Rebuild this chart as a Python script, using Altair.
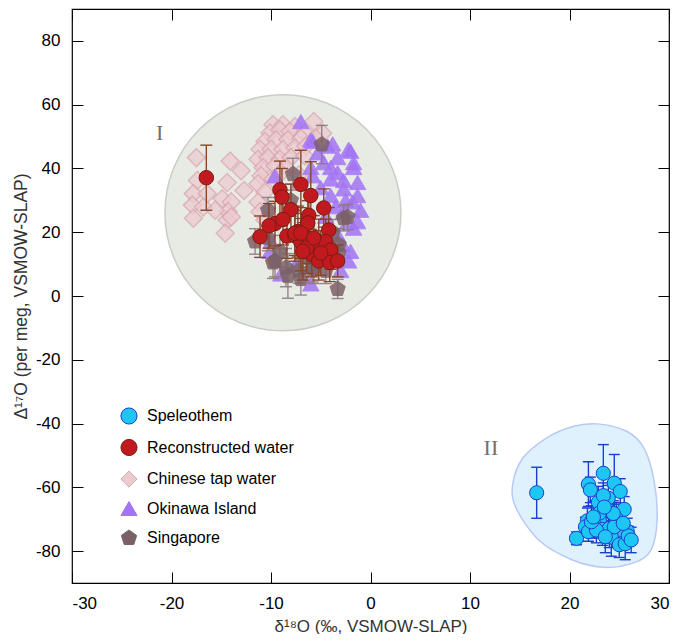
import altair as alt
import pandas as pd

series_names = ["Speleothem", "Reconstructed water", "Chinese tap water", "Okinawa Island", "Singapore"]
fill_colors = ["#1ec6f4", "#c01a1e", "#eccbd0", "#a374f5", "#7b6167"]
stroke_colors = ["#1a3fcf", "#7a1c12", "#d9a6ae", "#a374f5", "#7b6167"]
pent = "M0,-1L0.951,-0.309L0.588,0.809L-0.588,0.809L-0.951,-0.309Z"
shapes = ["circle", "circle", "diamond", "triangle-up", pent]

# Speleothem
sp_x = [16.7, 23.4, 24.5, 21.9, 22.1, 25.1, 22.9, 23.9, 23.4, 25.5, 23.9, 24.7, 21.8, 23.0, 21.6, 22.5, 23.3, 24.0,
        25.8, 24.9, 20.7, 21.9, 24.2, 25.0, 25.6, 25.9, 22.7, 22.2, 24.5, 23.6, 25.4, 24.4, 23.0, 23.5, 22.4, 26.2]
sp_y = [-61.7, -55.6, -58.7, -59.0, -60.8, -61.3, -64.7, -63.4, -62.6, -66.9, -67.2, -69.8, -70.5, -70.3, -72.4,
        -71.9, -73.2, -72.9, -73.7, -73.4, -76.0, -73.9, -75.6, -78.0, -77.7, -75.2, -73.4, -70.8, -72.4, -75.5,
        -71.3, -68.2, -68.1, -66.2, -69.3, -76.5]
sp_err = [8, 9, 9, 7, 4, 4, 5, 4, 4, 4, 4, 5, 4, 5, 3, 4, 5, 6, 4, 5, 2, 3, 6, 4, 5, 3, 4, 5, 4, 5, 3, 4, 4, 3, 5, 4]

# Reconstructed water
rw_x = [-16.5, -9.1, -8.9, -7.0, -6.0, -4.7, -8.0, -6.2, -6.3, -9.6, -10.2, -11.1, -8.4, -7.6, -7.0, -6.2, -4.2,
        -5.2, -4.5, -4.0, -5.9, -5.2, -4.1, -3.3, -6.4, -7.3, -7.6, -7.0, -5.7, -6.8, -5.0, -8.8]
rw_y = [37.1, 33.3, 31.0, 35.0, 31.5, 27.6, 27.1, 25.3, 22.9, 22.7, 22.0, 18.6, 18.8, 18.9, 16.9, 18.2, 20.7,
        17.1, 17.1, 14.4, 13.0, 11.0, 10.5, 11.0, 15.1, 20.2, 19.7, 19.7, 18.2, 14.0, 13.5, 24.0]
rw_err = [10.2, 9, 9, 10.7, 10.6, 6, 8, 8, 7, 7, 7, 6.5, 7, 8, 9, 8, 7, 7, 7, 6, 7, 6, 6, 5, 8, 8, 7, 8, 7, 9, 7, 8]

# Chinese tap water
tw_x = [-17.5, -14.1, -13.0, -17.4, -14.4, -12.7, -17.8, -16.4, -14.9, -17.9, -16.8, -14.0, -14.3, -17.8, -14.4,
        -14.6, -14.0, -15.6,
        -9.8, -8.8, -7.6, -5.7, -10.1, -9.1, -8.1, -6.6, -10.6, -9.5, -8.3, -7.0, -11.1, -10.0, -8.8, -7.6, -6.5,
        -11.3, -10.3, -9.1, -8.0, -6.6, -10.8, -9.6, -8.5, -11.0, -9.8, -11.3, -10.6, -11.3, -11.1, -10.6,
        -4.8, -5.5, -7.2, -9.0]
tw_y = [43.4, 42.3, 39.3, 36.2, 35.6, 33.1, 32.1, 32.1, 30.5, 28.5, 27.9, 29.5, 26.4, 24.4, 23.8, 19.7, 24.8, 26.9,
        53.7, 53.7, 53.1, 54.7, 51.1, 52.1, 51.6, 51.1, 48.5, 49.0, 49.0, 49.5, 46.0, 46.0, 46.0, 46.5, 47.0,
        42.9, 43.4, 42.9, 43.4, 43.9, 40.3, 40.8, 40.3, 37.7, 36.7, 35.2, 32.6, 29.5, 26.4, 23.8,
        51.0, 49.5, 38.0, 38.5]

# Okinawa Island
ok_x = [-7.0, -6.0, -4.3, -2.2, -3.3, -1.7, -1.3, -1.0, -1.7, -1.8, -2.2, -2.8, -3.3, -4.0, -2.7, -4.7, -5.3, -9.6,
        -6.0, -2.3, -1.3, -3.3, -2.7, -10.0, -10.1, -6.0, -9.0, -2.0, -1.3, -4.0, -4.2, -5.8, -3.8, -2.0, -1.7,
        -5.8, -4.0, -2.7, -3.5, -5.0, -3.0, -7.5, -4.5, -2.5]
ok_y = [54.7, 49.0, 47.0, 46.0, 43.4, 40.3, 35.6, 26.9, 21.3, 29.5, 11.0, 16.1, 38.7, 36.7, 33.6, 41.8, 44.9, 37.7,
        40.3, 23.3, 23.3, 19.2, 26.4, 17.1, 14.0, 3.8, 6.9, 14.0, 31.5, 31.5, 19.2, 48.5, 47.7, 45.4, 41.8,
        37.7, 40.3, 36.2, 28.0, 34.0, 8.0, 10.0, 25.0, 30.0]

# Singapore
sg_x = [-4.9, -7.8, -11.6, -9.6, -8.5, -7.0, -3.3, -2.3, -3.2, -5.7, -8.3, -10.3, -9.8, -9.1, -5.8, -4.5, -10.3,
        -3.2, -2.7, -6.5, -8.0, -3.8, -7.2]
sg_y = [47.5, 38.2, 17.1, 11.0, 8.9, 5.3, 2.2, 24.8, 16.1, 8.9, 6.3, 18.2, 10.5, 14.0, 8.4, 7.9, 26.9, 13.5,
        24.4, 12.0, 30.0, 20.0, 8.0]
sg_err = [6, 5, 4, 5, 6, 5, 3, 4, 5, 5, 7, 4, 5, 5, 4, 4, 4, 4, 4, 5, 5, 4, 4]

# Group outlines / labels
circ_x = [-8.8]
circ_y = [26.1]
blob_x = [22.8, 25.8, 27.5, 28.5, 28.8, 28.2, 26.5, 23.5, 20.25, 16.9, 14.6, 14.3, 15.3, 17.6, 20.25]
blob_y = [-40.1, -42.5, -47.8, -58.0, -70.3, -79.6, -83.6, -85.1, -82.7, -76.5, -66.3, -58.9, -50.9, -44.7, -41.0]
lab_text = ["I", "II"]
lab_x = [-21.2, 12.1]
lab_y = [51.0, -47.8]

x_ticks = [-30, -20, -10, 0, 10, 20, 30]
y_ticks = [-80, -60, -40, -20, 0, 20, 40, 60, 80]

FONT = "Liberation Sans"
xs = alt.Scale(domain=[-30, 30], nice=False, zero=False)
ys = alt.Scale(domain=[-90, 90], nice=False, zero=False)


def pts(xv, yv, name, err=None):
    d = pd.DataFrame({"x": xv, "y": yv, "series": name})
    if err is not None:
        d["lo"] = d["y"] - pd.Series(err)
        d["hi"] = d["y"] + pd.Series(err)
    return d


legend = alt.Legend(title=None, orient="none", legendX=48, legendY=398, symbolSize=260,
                    labelFontSize=16, labelFont=FONT, labelColor="black", rowPadding=9.5,
                    labelOffset=9, padding=0, symbolStrokeWidth=1, symbolOpacity=1)

fill_enc = alt.Fill("series:N", scale=alt.Scale(domain=series_names, range=fill_colors), legend=legend)
stroke_enc = alt.Stroke("series:N", scale=alt.Scale(domain=series_names, range=stroke_colors), legend=legend)
shape_enc = alt.Shape("series:N", scale=alt.Scale(domain=series_names, range=shapes), legend=legend)

XN = alt.X("x:Q", scale=xs, axis=None)
YN = alt.Y("y:Q", scale=ys, axis=None)


def point_layer(df, size, opacity=1.0, sw=1.0):
    return alt.Chart(df).mark_point(filled=True, size=size, opacity=opacity, strokeWidth=sw).encode(
        x=XN, y=YN, fill=fill_enc, stroke=stroke_enc, shape=shape_enc)


def err_layer(df, color, cap, opacity=1.0):
    return alt.Chart(df).mark_errorbar(color=color, ticks=True, size=cap, thickness=1.4,
                                       rule=alt.MarkConfig(strokeWidth=1.4), opacity=opacity).encode(
        x=XN, y=alt.Y("lo:Q", scale=ys, axis=None), y2="hi:Q")


bottom_axis = alt.Axis(orient="bottom", values=x_ticks, tickSize=11, offset=-11, labelPadding=12,
                       labelFontSize=17, labelFont=FONT, labelColor="black", tickColor="black",
                       labelExpr="datum.value + ''", title="δ¹⁸O (‰, VSMOW-SLAP)", titleFont=FONT,
                       titleFontSize=17, titleFontWeight="normal", titleColor="#333", titlePadding=7,
                       domain=False, grid=False)
left_axis = alt.Axis(orient="left", values=y_ticks, tickSize=11, offset=-11, labelPadding=12,
                     labelFontSize=17, labelFont=FONT, labelColor="black", tickColor="black",
                     labelExpr="datum.value + ''", title="Δ¹⁷O (per meg, VSMOW-SLAP)", titleFont=FONT,
                     titleFontSize=17.5, titleFontWeight="normal", titleColor="#333", titlePadding=5,
                     domain=False, grid=False)
top_axis = alt.Axis(orient="top", values=x_ticks, tickSize=11, offset=-11, labels=False, title=None,
                    tickColor="black", domain=False, grid=False)
right_axis = alt.Axis(orient="right", values=y_ticks, tickSize=11, offset=-11, labels=False, title=None,
                      tickColor="black", domain=False, grid=False)

circle_df = pd.DataFrame({"x": circ_x, "y": circ_y})
circle_layer = alt.Chart(circle_df).mark_point(shape="circle", filled=True, size=236 * 236,
                                               fill="#e8ebe4", stroke="#cacdc5", strokeWidth=1.5,
                                               opacity=1).encode(
    x=alt.X("x:Q", scale=xs, axis=bottom_axis), y=alt.Y("y:Q", scale=ys, axis=left_axis))

blob_df = pd.DataFrame({"x": blob_x, "y": blob_y, "idx": list(range(len(blob_x)))})
blob_layer = alt.Chart(blob_df).mark_line(interpolate="cardinal-closed", fill="#dff1fd", stroke="#b9caf2",
                                          strokeWidth=1.5).encode(x=XN, y=YN, order="idx:Q")

lab_df = pd.DataFrame({"x": lab_x, "y": lab_y, "t": lab_text})
lab_layer = alt.Chart(lab_df).mark_text(font="Liberation Serif", fontSize=22, color="#707070").encode(
    x=alt.X("x:Q", scale=xs, axis=top_axis), y=alt.Y("y:Q", scale=ys, axis=right_axis), text="t:N")

tw = pts(tw_x, tw_y, "Chinese tap water")
ok = pts(ok_x, ok_y, "Okinawa Island")
sg = pts(sg_x, sg_y, "Singapore", sg_err)
rw = pts(rw_x, rw_y, "Reconstructed water", rw_err)
sp = pts(sp_x, sp_y, "Speleothem", sp_err)

chart = alt.layer(
    circle_layer,
    blob_layer,
    lab_layer,
    point_layer(tw, 324, opacity=0.75, sw=1.5),
    point_layer(ok, 270, opacity=0.85),
    err_layer(sg, "#8e7a7f", 12, opacity=0.9),
    point_layer(sg, 256, opacity=0.85),
    err_layer(rw, "#8a4529", 12),
    point_layer(rw, 210, opacity=1.0),
    err_layer(sp, "#1a3fd0", 11),
    point_layer(sp, 200, opacity=1.0),
).resolve_axis(x="independent", y="independent").properties(
    width=597, height=574,
    padding={"left": 64, "top": 1, "right": 8, "bottom": 51},
    autosize=alt.AutoSizeParams(type="none"),
).configure_view(stroke="black", strokeWidth=1.2).configure_axis(grid=False)

chart.save("out.html", embed_options={"renderer": "svg", "actions": False})
